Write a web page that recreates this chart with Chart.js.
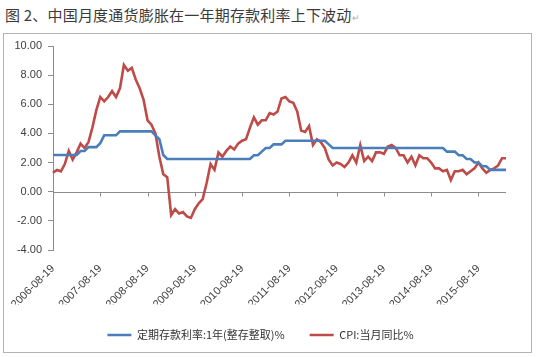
<!DOCTYPE html>
<html><head><meta charset="utf-8">
<script src="https://cdn.jsdelivr.net/npm/chart.js@4.4.0/dist/chart.umd.min.js"></script>
<style>
html,body{margin:0;padding:0;background:#fff;}
#wrap{position:relative;width:536px;height:357px;overflow:hidden;background:#fff;}
#title{position:absolute;left:5px;top:6px;font-family:"Noto Sans CJK SC";font-size:15px;line-height:17px;letter-spacing:0.2px;color:#3a3a3a;white-space:nowrap;}
#title span{color:#aaa;font-size:9px;letter-spacing:0;}
#frame{position:absolute;left:3px;top:33px;width:527px;height:318px;border:1px solid #b4b4b4;}
canvas{position:absolute;left:0;top:0;}
</style></head>
<body><div id="wrap"><div id="title">图 2、中国月度通货膨胀在一年期存款利率上下波动<span>↵</span></div><div id="frame"></div><canvas id="c" width="536" height="357"></canvas></div>
<script>
const categories = [
"2006-08-19","2006-09-19","2006-10-19","2006-11-19","2006-12-19",
"2007-01-19","2007-02-19","2007-03-19","2007-04-19","2007-05-19","2007-06-19","2007-07-19","2007-08-19","2007-09-19","2007-10-19","2007-11-19","2007-12-19",
"2008-01-19","2008-02-19","2008-03-19","2008-04-19","2008-05-19","2008-06-19","2008-07-19","2008-08-19","2008-09-19","2008-10-19","2008-11-19","2008-12-19",
"2009-01-19","2009-02-19","2009-03-19","2009-04-19","2009-05-19","2009-06-19","2009-07-19","2009-08-19","2009-09-19","2009-10-19","2009-11-19","2009-12-19",
"2010-01-19","2010-02-19","2010-03-19","2010-04-19","2010-05-19","2010-06-19","2010-07-19","2010-08-19","2010-09-19","2010-10-19","2010-11-19","2010-12-19",
"2011-01-19","2011-02-19","2011-03-19","2011-04-19","2011-05-19","2011-06-19","2011-07-19","2011-08-19","2011-09-19","2011-10-19","2011-11-19","2011-12-19",
"2012-01-19","2012-02-19","2012-03-19","2012-04-19","2012-05-19","2012-06-19","2012-07-19","2012-08-19","2012-09-19","2012-10-19","2012-11-19","2012-12-19",
"2013-01-19","2013-02-19","2013-03-19","2013-04-19","2013-05-19","2013-06-19","2013-07-19","2013-08-19","2013-09-19","2013-10-19","2013-11-19","2013-12-19",
"2014-01-19","2014-02-19","2014-03-19","2014-04-19","2014-05-19","2014-06-19","2014-07-19","2014-08-19","2014-09-19","2014-10-19","2014-11-19","2014-12-19",
"2015-01-19","2015-02-19","2015-03-19","2015-04-19","2015-05-19","2015-06-19","2015-07-19","2015-08-19","2015-09-19","2015-10-19","2015-11-19","2015-12-19",
"2016-01-19","2016-02-19","2016-03-19"
];
const tickLabels = ["2006-08-19","2007-08-19","2008-08-19","2009-08-19","2010-08-19","2011-08-19","2012-08-19","2013-08-19","2014-08-19","2015-08-19"];
const depositRate = [
2.52,2.52,2.52,2.52,2.52,
2.52,2.52,2.79,2.79,3.06,3.06,3.06,3.33,3.87,3.87,3.87,3.87,
4.14,4.14,4.14,4.14,4.14,4.14,4.14,4.14,4.14,3.87,3.60,2.52,
2.25,2.25,2.25,2.25,2.25,2.25,2.25,2.25,2.25,2.25,2.25,2.25,
2.25,2.25,2.25,2.25,2.25,2.25,2.25,2.25,2.25,2.25,2.50,2.50,
2.75,3.00,3.00,3.25,3.25,3.25,3.50,3.50,3.50,3.50,3.50,3.50,
3.50,3.50,3.50,3.50,3.50,3.25,3.00,3.00,3.00,3.00,3.00,3.00,
3.00,3.00,3.00,3.00,3.00,3.00,3.00,3.00,3.00,3.00,3.00,3.00,
3.00,3.00,3.00,3.00,3.00,3.00,3.00,3.00,3.00,3.00,3.00,2.75,
2.75,2.75,2.50,2.50,2.25,2.25,2.00,2.00,1.75,1.75,1.50,1.50,
1.50,1.50,1.50
];
const cpiYoY = [
1.3,1.5,1.4,1.9,2.8,
2.2,2.7,3.3,3.0,3.4,4.4,5.6,6.5,6.2,6.5,6.9,6.5,
7.1,8.7,8.3,8.5,7.7,7.1,6.3,4.9,4.6,4.0,2.4,1.2,
1.0,-1.6,-1.2,-1.5,-1.4,-1.7,-1.8,-1.2,-0.8,-0.5,0.6,1.9,
1.5,2.7,2.4,2.8,3.1,2.9,3.3,3.5,3.6,4.4,5.1,4.6,
4.9,4.9,5.4,5.3,5.5,6.4,6.5,6.2,6.1,5.5,4.2,4.1,
4.5,3.2,3.6,3.4,3.0,2.2,1.8,2.0,1.9,1.7,2.0,2.5,
2.0,3.2,2.1,2.4,2.1,2.7,2.7,2.6,3.1,3.2,3.0,2.5,
2.5,2.0,2.4,1.8,2.5,2.3,2.3,2.0,1.6,1.6,1.4,1.5,
0.8,1.4,1.4,1.5,1.2,1.4,1.6,2.0,1.6,1.3,1.5,1.6,
1.8,2.3,2.3
];
const seriesNames = ["定期存款利率:1年(整存整取)%","CPI:当月同比%"];
const yTicks = [-4,-2,0,2,4,6,8,10];

const zeroLine = {
  id:'zeroLine',
  beforeDatasetsDraw(chart){
    const {ctx, chartArea, scales:{x,y}} = chart;
    const y0 = Math.round(y.getPixelForValue(0)) + 0.5;
    ctx.save();
    ctx.strokeStyle = '#8c8c8c';
    ctx.lineWidth = 1;
    ctx.beginPath();
    ctx.moveTo(chartArea.left, y0);
    ctx.lineTo(chartArea.right, y0);
    categories.forEach((c,i)=>{
      if (tickLabels.includes(c) && i>0){
        const px = Math.round(x.getPixelForValue(i)) + 0.5;
        ctx.moveTo(px, y0);
        ctx.lineTo(px, y0 + 4);
      }
    });
    ctx.stroke();
    ctx.restore();
  }
};

new Chart(document.getElementById('c'), {
  type:'line',
  data:{
    labels:categories,
    datasets:[
      {label:seriesNames[0], data:depositRate, borderColor:'#4A7EBB', backgroundColor:'#4A7EBB', borderWidth:2.6, pointRadius:0, tension:0},
      {label:seriesNames[1], data:cpiYoY, borderColor:'#BE4B48', backgroundColor:'#BE4B48', borderWidth:2.6, pointRadius:0, tension:0}
    ]
  },
  options:{
    responsive:false, animation:false, devicePixelRatio:1,
    layout:{padding:{left:15, top:46, right:30, bottom:6.5}},
    plugins:{
      legend:{position:'bottom', labels:{usePointStyle:true, pointStyle:'line', pointStyleWidth:24, padding:25, color:'#333', font:{family:'"Noto Sans CJK SC"', size:11}}},
      tooltip:{enabled:false}
    },
    scales:{
      x:{
        grid:{display:false, drawTicks:false}, border:{display:false},
        ticks:{autoSkip:false, minRotation:45, maxRotation:45, padding:12, color:'#404040', font:{family:'"Liberation Sans"', size:11},
          callback:function(v,i){ const l = categories[i]; return tickLabels.includes(l) ? l : null; }},
        afterFit(s){ s.height = 54.5; }
      },
      y:{
        min:-4, max:10,
        afterBuildTicks(s){ s.ticks = yTicks.map(v=>({value:v})); },
        ticks:{padding:6, color:'#404040', font:{family:'"Liberation Sans"', size:11}, callback:v=>Number(v).toFixed(2)},
        grid:{drawOnChartArea:false, tickLength:5, color:'#8c8c8c'},
        border:{color:'#8c8c8c'},
        afterFit(s){ s.width = 38; }
      }
    }
  },
  plugins:[zeroLine]
});
</script>
</body></html>
